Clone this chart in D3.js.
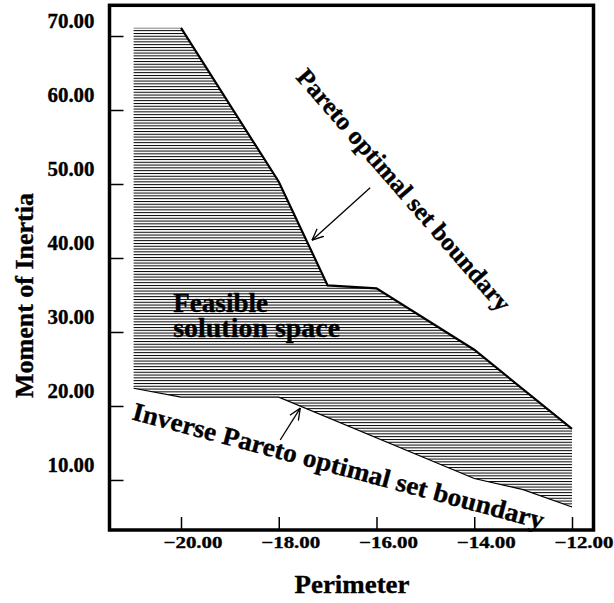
<!DOCTYPE html>
<html>
<head>
<meta charset="utf-8">
<script src="https://cdn.jsdelivr.net/npm/d3@7"></script>
<style>
body { margin: 0; background: #fff; }
text { font-family: "Liberation Serif", "Times New Roman", serif; font-weight: bold; fill: #000; stroke: #000; stroke-width: 0.35px; }
</style>
</head>
<body>
<div id="chart"></div>
<script>
// Pareto optimal set boundary (upper edge of the feasible region)
const paretoX = [-20.0, -18.0, -17.0, -16.0, -14.0, -12.0];
const paretoY = [71.1, 50.3, 36.3, 35.9, 27.6, 16.9];

// Inverse Pareto optimal set boundary (lower edge)
const inverseX = [-20.97, -20.0, -18.0, -14.0, -13.0, -12.0];
const inverseY = [22.4, 21.2, 21.2, 10.2, 8.7, 6.35];

// top-left corner of the shaded region
const regionLeft = -20.97;
const regionTop = 71.1;

const xTicks = [-20, -18, -16, -14, -12];
const yTicks = [10, 20, 30, 40, 50, 60, 70];

// arrows: [tail, tip] in data units
const paretoArrow = [[-16.13, 49.5], [-17.32, 42.4]];
const inverseArrow = [[-17.97, 15.4], [-17.56, 19.7]];

const width = 614, height = 603;

const x = d3.scaleLinear().domain([-21.463, -11.56]).range([109.5, 593.5]);
const y = d3.scaleLinear().domain([3.24, 74.15]).range([530, 5.3]);

const svg = d3.select('#chart')
    .append('svg')
    .attr('width', width)
    .attr('height', height);

const defs = svg.append('defs');

// horizontal hatching used for the feasible region
const hatch = defs.append('pattern')
    .attr('id', 'hatch')
    .attr('patternUnits', 'userSpaceOnUse')
    .attr('x', 0)
    .attr('y', y(regionTop) - 0.5)
    .attr('width', 10)
    .attr('height', 2.8);
hatch.append('line')
    .attr('x1', 0).attr('x2', 10)
    .attr('y1', 0.5).attr('y2', 0.5)
    .attr('stroke', '#000')
    .attr('stroke-width', 1);

defs.append('marker')
    .attr('id', 'head')
    .attr('markerUnits', 'userSpaceOnUse')
    .attr('viewBox', '0 0 12 12')
    .attr('refX', 11.5)
    .attr('refY', 6)
    .attr('markerWidth', 12)
    .attr('markerHeight', 12)
    .attr('orient', 'auto')
    .append('path')
    .attr('d', 'M0,1 L11.5,6 L0,11')
    .attr('fill', 'none')
    .attr('stroke', '#000')
    .attr('stroke-width', 1.3);

const pareto = paretoX.map((d, i) => [d, paretoY[i]]);
const inverse = inverseX.map((d, i) => [d, inverseY[i]]);

const line = d3.line().x(d => x(d[0])).y(d => y(d[1]));

// shaded region: top edge, Pareto boundary, right edge, inverse boundary back
const region = [[regionLeft, regionTop]].concat(pareto, inverse.slice().reverse());
svg.append('path')
    .attr('d', line(region) + 'Z')
    .attr('fill', 'url(#hatch)')
    .attr('stroke', 'none');

svg.append('path')
    .attr('d', line(pareto))
    .attr('fill', 'none')
    .attr('stroke', '#000')
    .attr('stroke-width', 2.2)
    .attr('stroke-linejoin', 'miter');

svg.append('path')
    .attr('d', line(inverse))
    .attr('fill', 'none')
    .attr('stroke', '#000')
    .attr('stroke-width', 1.2);

// axes, ticks pointing into the frame
const yAxis = d3.axisLeft(y)
    .tickValues(yTicks)
    .tickSizeInner(-14)
    .tickSizeOuter(0)
    .tickPadding(15)
    .tickFormat(d => d.toFixed(2));

const gy = svg.append('g')
    .attr('transform', `translate(${x.range()[0]},0)`)
    .call(yAxis);
gy.select('.domain').remove();
gy.selectAll('line').attr('stroke-width', 1.5);
gy.selectAll('text')
    .attr('y', -14.5)
    .attr('font-size', 20)
    .attr('textLength', 47)
    .attr('lengthAdjust', 'spacingAndGlyphs');

const xAxis = d3.axisBottom(x)
    .tickValues(xTicks)
    .tickSizeInner(-13)
    .tickSizeOuter(0)
    .tickPadding(6.4)
    .tickFormat(d => '\u2212' + Math.abs(d).toFixed(2));

const gx = svg.append('g')
    .attr('transform', `translate(0,${y.range()[0]})`)
    .call(xAxis);
gx.select('.domain').remove();
gx.selectAll('line').attr('stroke-width', 1.5);
gx.selectAll('text')
    .attr('x', 11.5)
    .attr('font-size', 16.5)
    .attr('textLength', 59)
    .attr('lengthAdjust', 'spacingAndGlyphs');

// frame
svg.append('rect')
    .attr('x', x.range()[0])
    .attr('y', y.range()[1])
    .attr('width', x.range()[1] - x.range()[0])
    .attr('height', y.range()[0] - y.range()[1])
    .attr('fill', 'none')
    .attr('stroke', '#000')
    .attr('stroke-width', 3.5);

// axis titles
svg.append('text')
    .attr('transform', 'translate(33,295.5) rotate(-90)')
    .attr('text-anchor', 'middle')
    .attr('font-size', 26)
    .attr('textLength', 205)
    .attr('lengthAdjust', 'spacingAndGlyphs')
    .text('Moment of Inertia');

svg.append('text')
    .attr('x', 352)
    .attr('y', 593)
    .attr('text-anchor', 'middle')
    .attr('font-size', 26)
    .attr('textLength', 115)
    .attr('lengthAdjust', 'spacingAndGlyphs')
    .text('Perimeter');

// region label, two lines in one text element
const feasible = svg.append('text')
    .attr('font-size', 27);
feasible.append('tspan')
    .attr('x', x(-20.16))
    .attr('y', y(32.7))
    .attr('textLength', 95)
    .attr('lengthAdjust', 'spacingAndGlyphs')
    .text('Feasible');
feasible.append('tspan')
    .attr('x', x(-20.16))
    .attr('y', y(29.3))
    .attr('textLength', 167)
    .attr('lengthAdjust', 'spacingAndGlyphs')
    .text('solution space');

// boundary labels
svg.append('text')
    .attr('transform', `translate(${x(-15.44)},${y(49.2)}) rotate(49)`)
    .attr('text-anchor', 'middle')
    .attr('dominant-baseline', 'central')
    .attr('font-size', 25)
    .attr('textLength', 312)
    .attr('lengthAdjust', 'spacingAndGlyphs')
    .text('Pareto optimal set boundary');

svg.append('text')
    .attr('transform', `translate(${x(-16.78)},${y(11.9)}) rotate(15)`)
    .attr('text-anchor', 'middle')
    .attr('dominant-baseline', 'central')
    .attr('font-size', 26)
    .attr('textLength', 425)
    .attr('lengthAdjust', 'spacingAndGlyphs')
    .text('Inverse Pareto optimal set boundary');

// arrows
[paretoArrow, inverseArrow].forEach(a => {
    svg.append('path')
        .attr('d', line(a))
        .attr('fill', 'none')
        .attr('stroke', '#000')
        .attr('stroke-width', 1.3)
        .attr('marker-end', 'url(#head)');
});
</script>
</body>
</html>
